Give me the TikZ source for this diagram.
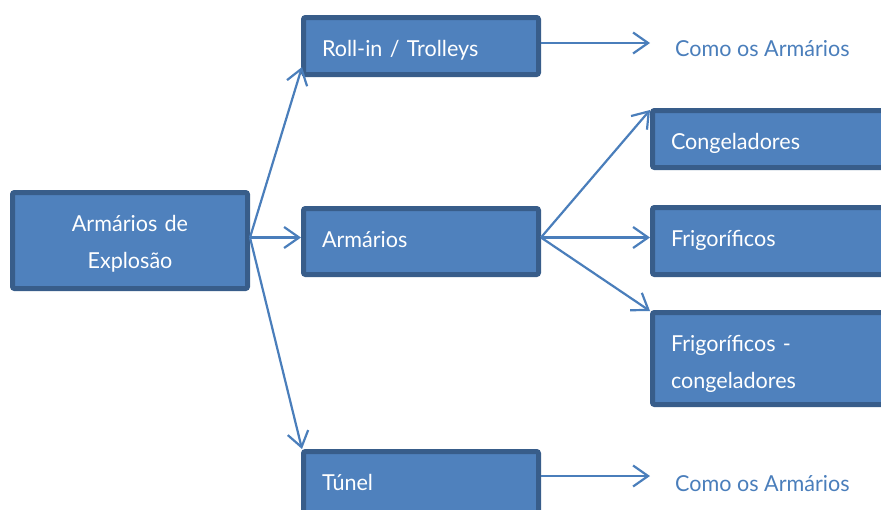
\documentclass[tikz,border=0pt]{standalone}
\usepackage{fontspec}
\setmainfont{Lato}[FakeStretch=0.98]
\usetikzlibrary{arrows.meta}
\definecolor{boxfill}{HTML}{4F81BD}
\definecolor{boxedge}{HTML}{385D8A}
\definecolor{linkblue}{HTML}{4A7EBB}
% boxes: text hangs from the top, first baseline 41.5pt below the outer edge
\tikzset{
  box/.style={draw=boxedge, line width=5pt, fill=boxfill, rounded corners=2pt,
    text=white, font=\fontsize{22}{37}\selectfont, minimum width=235pt,
    text width=198pt, inner xsep=18.5pt, inner ysep=0pt, align=left,
    text height=39pt},
  mainbox/.style={box, align=center},
  link/.style={draw=linkblue, line width=2.2pt,
    -{Straight Barb[length=15pt, width=21pt, line width=2.2pt]}},
  note/.style={text=linkblue, font=\fontsize{22}{26}\selectfont, anchor=base west, inner sep=0pt}
}
\begin{document}
\begin{tikzpicture}[x=1pt, y=-1pt]
\useasboundingbox (0,0) rectangle (881,509);
\begin{scope}
\clip (0,0) rectangle (881,509);
% root and first level
\node[mainbox, minimum height=96pt, text depth=57pt] (root) at (130,240.5) {Armários de\\Explosão};
\node[box, minimum height=57pt, text depth=18pt] (rollin) at (421,46) {Roll-in / Trolleys};
\node[box, minimum height=66pt, text depth=27pt] (arm) at (421,241.5) {Armários};
\node[box, minimum height=66pt, text depth=27pt] (tunel) at (421,484.5) {Túnel};
% second level
\node[box, minimum height=57pt, text depth=18pt] (cong) at (770,139) {Congeladores};
\node[box, minimum height=67pt, text depth=28pt] (frig) at (770,241) {Frigoríficos};
\node[box, minimum height=92pt, text depth=53pt] (frigcong) at (770,358.5) {Frigoríficos -\\congeladores};
% side notes
\node[note] (note1) at (675,56) {Como os Armários};
\node[note] (note2) at (675,491) {Como os Armários};
\coordinate (n1tip) at (650,43);
\coordinate (n2tip) at (650,476);
\end{scope}
% connectors
\coordinate (rootout) at ([yshift=3pt]root.east);
\draw[link] (rootout) -- ([shift={(1pt,10pt)}]rollin.south west);
\draw[link] (rootout) -- (arm.west |- rootout);
\draw[link] (rootout) -- ([shift={(1pt,0pt)}]tunel.north west);
\coordinate (armout) at ([yshift=4pt]arm.east);
\draw[link] (armout) -- ([shift={(0pt,-2pt)}]cong.north west);
\draw[link] (armout) -- (frig.west |- armout);
\draw[link] (armout) -- ([shift={(0pt,-1pt)}]frigcong.north west);
\draw[link] (rollin.east |- n1tip) -- (n1tip);
\draw[link] (tunel.east |- n2tip) -- (n2tip);
\end{tikzpicture}
\end{document}
